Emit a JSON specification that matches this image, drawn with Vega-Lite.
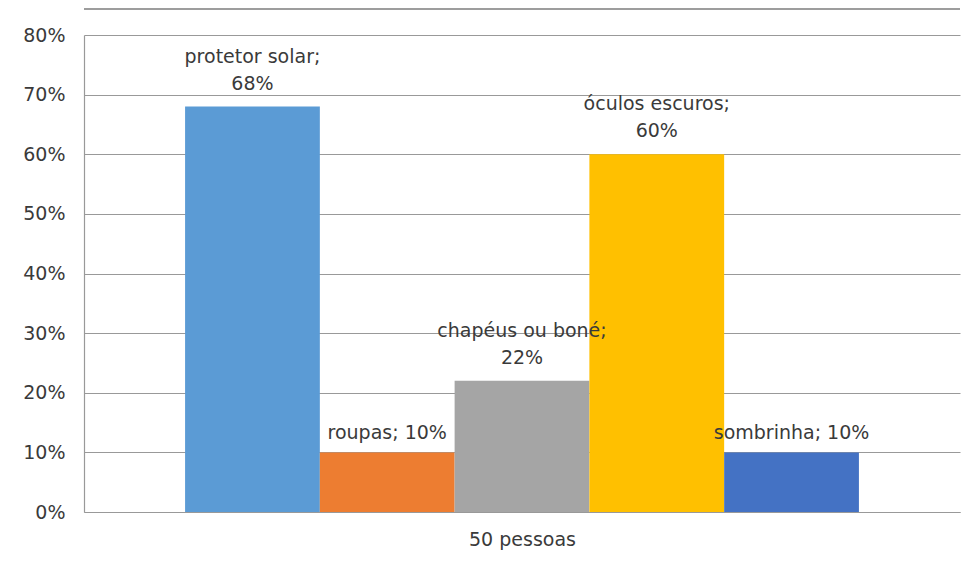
{
  "$schema": "https://vega.github.io/schema/vega-lite/v6.json",
  "width": 876,
  "height": 477,
  "autosize": "none",
  "padding": {"left": 84, "top": 35, "right": 15, "bottom": 51},
  "background": "white",
  "config": {
    "view": {"stroke": null},
    "font": "DejaVu Sans",
    "text": {"font": "DejaVu Sans"}
  },
  "data": {
    "values": [
      {"item": "protetor solar", "value": 0.68, "label": ["protetor solar;", "68%"]},
      {"item": "roupas", "value": 0.10, "label": ["roupas; 10%"]},
      {"item": "chapéus ou boné", "value": 0.22, "label": ["chapéus ou boné;", "22%"]},
      {"item": "óculos escuros", "value": 0.60, "label": ["óculos escuros;", "60%"]},
      {"item": "sombrinha", "value": 0.10, "label": ["sombrinha; 10%"]}
    ]
  },
  "encoding": {
    "x": {
      "field": "item",
      "type": "nominal",
      "sort": null,
      "scale": {"paddingInner": 0, "paddingOuter": 0.75},
      "axis": {
        "title": "50 pessoas",
        "titleFont": "DejaVu Sans",
        "titleFontSize": 19,
        "titleFontWeight": "normal",
        "titleColor": "#3a3a3a",
        "titlePadding": 18,
        "labels": false,
        "ticks": false,
        "domainColor": "#999999",
        "domainWidth": 1.2
      }
    },
    "y": {
      "field": "value",
      "type": "quantitative",
      "scale": {"domain": [0, 0.8], "nice": false},
      "axis": {
        "title": null,
        "format": ".0%",
        "values": [0, 0.1, 0.2, 0.3, 0.4, 0.5, 0.6, 0.7, 0.8],
        "labelFont": "DejaVu Sans",
        "labelFontSize": 19,
        "labelColor": "#3a3a3a",
        "labelPadding": 19,
        "ticks": false,
        "domainColor": "#999999",
        "domainWidth": 1.2,
        "gridColor": "#999999",
        "gridWidth": 1.2
      }
    }
  },
  "layer": [
    {
      "mark": {"type": "bar"},
      "encoding": {
        "color": {
          "field": "item",
          "type": "nominal",
          "legend": null,
          "scale": {
            "domain": ["protetor solar", "roupas", "chapéus ou boné", "óculos escuros", "sombrinha"],
            "range": ["#5B9BD5", "#ED7D31", "#A5A5A5", "#FFC000", "#4472C4"]
          }
        }
      }
    },
    {
      "transform": [{"filter": "length(datum.label) > 1"}],
      "mark": {"type": "text", "baseline": "bottom", "align": "center", "dy": -40, "fontSize": 19, "lineHeight": 27, "color": "#3a3a3a"},
      "encoding": {"text": {"field": "label"}}
    },
    {
      "transform": [{"filter": "length(datum.label) == 1"}],
      "mark": {"type": "text", "baseline": "bottom", "align": "center", "dy": -9, "fontSize": 19, "color": "#3a3a3a"},
      "encoding": {"text": {"field": "label"}}
    },
    {
      "mark": {"type": "rule", "color": "#999999", "strokeWidth": 1.2, "clip": false},
      "encoding": {"y": {"datum": 0.8436}, "x": null}
    }
  ]
}
